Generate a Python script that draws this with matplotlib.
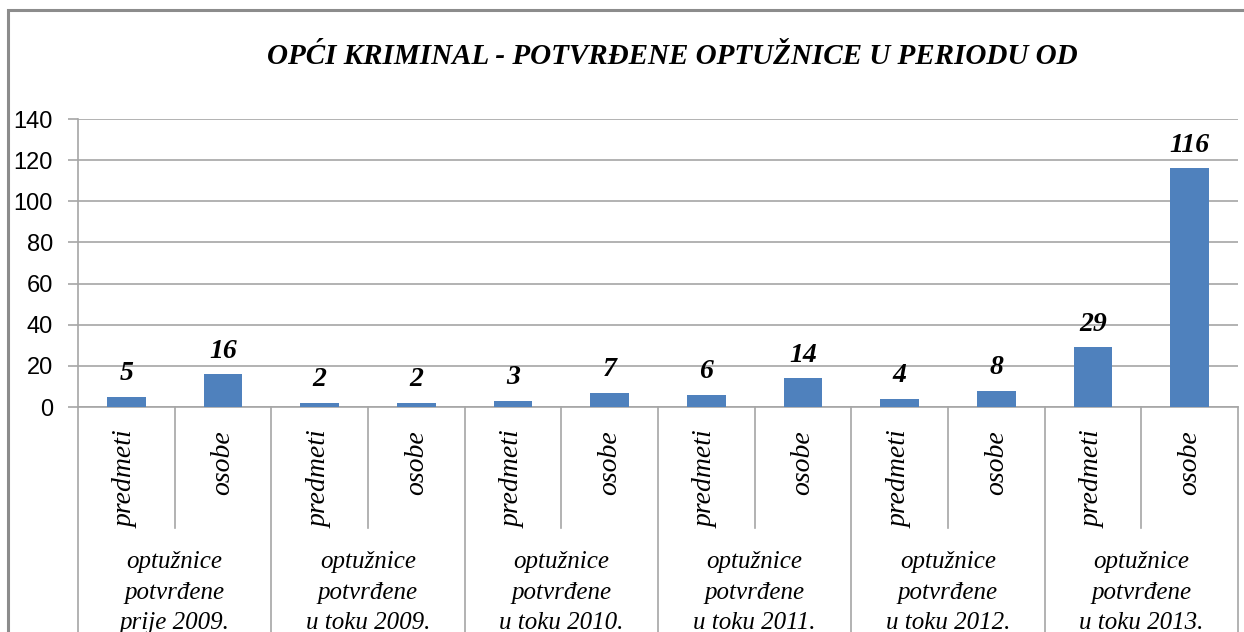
import matplotlib
matplotlib.use("Agg")
import matplotlib.pyplot as plt
from matplotlib.patches import Rectangle

title = "OPĆI KRIMINAL - POTVRĐENE OPTUŽNICE U PERIODU OD"
sub_labels = ["predmeti", "osobe"] * 6
group_labels = [
    "optužnice\npotvrđene\nprije 2009.",
    "optužnice\npotvrđene\nu toku 2009.",
    "optužnice\npotvrđene\nu toku 2010.",
    "optužnice\npotvrđene\nu toku 2011.",
    "optužnice\npotvrđene\nu toku 2012.",
    "optužnice\npotvrđene\nu toku 2013.",
]
values = [5, 16, 2, 2, 3, 7, 6, 14, 4, 8, 29, 116]
yticks = [0, 20, 40, 60, 80, 100, 120, 140]

W, H = 1244, 632
fig = plt.figure(figsize=(W / 100, H / 100), dpi=100)
fig.patch.set_facecolor("white")

# outer chart border
fig.add_artist(Rectangle((8 / W, -0.1), 1.2, 1 - 10 / H + 0.1, transform=fig.transFigure,
                         fill=False, edgecolor="#8c8c8c", linewidth=2.2))

left, right, top, bottom = 78, 1238, 119, 407
ax = fig.add_axes([left / W, 1 - bottom / H, (right - left) / W, (bottom - top) / H])

serif = "Liberation Serif"
sans = "Liberation Sans"
grid_c = "#a6a6a6"

x = list(range(len(values)))
ax.bar(x, values, width=0.40, color="#4f81bd", zorder=3)
ax.set_xlim(-0.5, len(values) - 0.5)
ax.set_ylim(0, 140)
ax.set_yticks(yticks)
ax.set_yticklabels([str(t) for t in yticks], fontfamily=sans, fontsize=17)
ax.yaxis.grid(True, color=grid_c, linewidth=1.2, zorder=0)
ax.set_xticks([])
ax.tick_params(axis="y", length=7, width=1.2, color=grid_c, pad=11)
for s in ["top", "right"]:
    ax.spines[s].set_visible(False)
for s in ["left", "bottom"]:
    ax.spines[s].set_color(grid_c)
    ax.spines[s].set_linewidth(1.2)

for xi, v in zip(x, values):
    ax.annotate(str(v), (xi, v), xytext=(0, 16.5), textcoords="offset points",
                ha="center", va="center", fontfamily=serif, fontsize=20,
                fontweight="bold", fontstyle="italic", color="black")

trans = ax.get_xaxis_transform()
ph = bottom - top
# separators
for i in range(len(values) + 1):
    pos = i - 0.5
    if i % 2 == 0:
        y1 = -(H - bottom + 10) / ph
    else:
        y1 = -(528 - bottom) / ph
    ax.plot([pos, pos], [0, y1], transform=trans, color=grid_c, linewidth=1.2,
            clip_on=False, zorder=2)

# rotated sub labels
for xi, lab in zip(x, sub_labels):
    ax.text(xi, -(430 - bottom) / ph, lab, transform=trans, rotation=90,
            ha="center", va="top", fontfamily=serif, fontstyle="italic", fontsize=20)

# group labels
for g, lab in enumerate(group_labels):
    ax.text(2 * g + 0.5, -(551 - bottom) / ph, lab, transform=trans,
            ha="center", va="top", multialignment="center", fontfamily=serif,
            fontstyle="italic", fontsize=18, linespacing=1.5)

fig.text(672 / W, 1 - 57 / H, title, ha="center", va="center", fontfamily=serif,
         fontweight="bold", fontstyle="italic", fontsize=21)

fig.savefig("out.png", dpi=100)
